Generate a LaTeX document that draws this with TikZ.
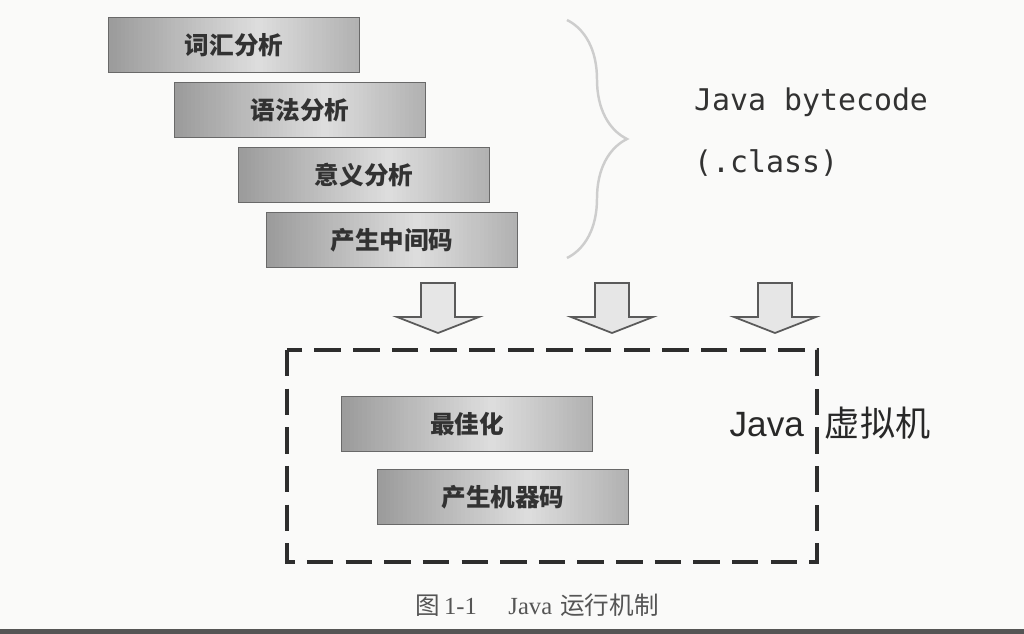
\documentclass[tikz,border=0pt]{standalone}
\usepackage{fontspec}
\newfontfamily\cjk{Noto Sans CJK SC}
\newfontfamily\codefont{DejaVu Sans Mono}
\newfontfamily\latinsans{Liberation Sans}
\newfontfamily\capserif{Liberation Serif}
\usetikzlibrary{decorations.pathreplacing, calc}

\begin{document}
\begin{tikzpicture}[x=0.02cm, y=-0.02cm]
        \tikzstyle{stage}=[draw={rgb,255:red,105; green,105; blue,105}, line width=0.9pt, minimum width=5.02cm, minimum height=1.1cm, inner sep=0pt, text={rgb,255:red,50; green,50; blue,50}, font=\cjk\bfseries\fontsize{14}{14}\selectfont,
            path picture={
                \foreach \k in {0,...,59} {
                    \pgfmathsetmacro\sh{13+26*abs(\k/59-0.6)/0.6}
                    \fill [black!\sh] ($(path picture bounding box.south west)!{\k/60}!(path picture bounding box.south east)$) rectangle ($(path picture bounding box.north west)!{(\k+1.4)/60}!(path picture bounding box.north east)$);
                }
            }]
        \tikzstyle{vmframe}=[draw={rgb,255:red,45; green,45; blue,45}, line width=2pt, dash pattern=on 15pt off 7pt]
        \tikzset{hollowarrow/.pic={
            \draw [fill={rgb,255:red,230; green,230; blue,230}, draw={rgb,255:red,90; green,90; blue,90}, line width=1pt, line join=miter] (-17,0) -- (17,0) -- (17,34) -- (41,34) -- (0,50) -- (-41,34) -- (-17,34) -- cycle;
        }}
        \fill [ color={rgb,255:red,250; green,250; blue,249} ] (0,0) rectangle (1024,634);
        \fill [ color={rgb,255:red,85; green,85; blue,85} ] (0,629) rectangle (1024,634);
        \node [stage] (lex) at (234,45) {词汇分析};
        \node [stage] (syn) at (300,110) {语法分析};
        \node [stage] (sem) at (364,175) {意义分析};
        \node [stage] (mid) at (392,240) {产生中间码};
        \draw [ color={rgb,255:red,205; green,205; blue,205}, line width=1.4pt, decorate, decoration={brace, amplitude=1.2cm, aspect=0.5} ] (567,20) -- (567,258);
        \node [anchor=west, font=\codefont\fontsize{17}{17}\selectfont, text={rgb,255:red,50; green,50; blue,50}] (bytecode) at (688,102) {Java bytecode};
        \node [anchor=west, font=\codefont\fontsize{17}{17}\selectfont, text={rgb,255:red,50; green,50; blue,50}] (classfile) at (688,163) {(.class)};
        \pic at (438,283) {hollowarrow};
        \pic at (612,283) {hollowarrow};
        \pic at (775,283) {hollowarrow};
        \draw [vmframe] (287,350) rectangle (817,562);
        \node [stage] (opt) at (467,424) {最佳化};
        \node [stage] (gen) at (503,497) {产生机器码};
        \node [font=\fontsize{20}{20}\selectfont, text={rgb,255:red,40; green,40; blue,40}] (jvm) at (830,423) {{\latinsans Java}\hspace{12pt}{\cjk 虚拟机}};
        \node [font=\fontsize{14}{14}\selectfont, text={rgb,255:red,85; green,85; blue,85}] (caption) at (537,605) {{\cjk 图}\,{\capserif 1-1}\hspace{18pt}{\capserif Java} {\cjk 运行机制}};
    \end{tikzpicture}
\end{document}
